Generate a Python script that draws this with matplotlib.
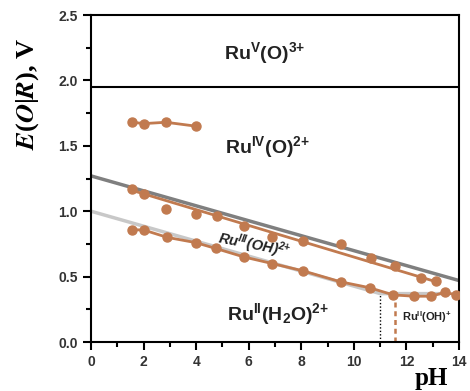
"""Pourbaix-style diagram for the Ru aqua/oxo complex."""

import matplotlib
import matplotlib.pyplot as plt
from matplotlib.ticker import MultipleLocator

matplotlib.use("Agg")

plt.rcParams["mathtext.fontset"] = "custom"
plt.rcParams["mathtext.rm"] = "Liberation Sans"
plt.rcParams["mathtext.bf"] = "Liberation Sans:bold"
plt.rcParams["mathtext.it"] = "Liberation Sans:italic"
plt.rcParams["mathtext.bfit"] = "Liberation Sans:bold:italic"

ORANGE = "#c17a4f"
DARK_GREY = "#7f7f7f"
LIGHT_GREY = "#c8c8c8"

# Ru(V)/Ru(IV) boundary
ru5_E = 1.95

# Ru(IV) measured points
ru4_ph = [1.55, 2.03, 2.85, 4.0]
ru4_E = [1.68, 1.67, 1.68, 1.65]

# Ru(IV)/Ru(III) measured points and fit line
ru43_ph = [1.55, 2.03, 2.85, 3.98, 4.78, 5.82, 6.89, 8.05, 9.5, 10.67, 11.56, 12.57, 13.14]
ru43_E = [1.17, 1.135, 1.02, 0.98, 0.96, 0.885, 0.80, 0.77, 0.75, 0.64, 0.58, 0.49, 0.47]
ru43_fit_ph = [1.55, 13.14]
ru43_fit_E = [1.16, 0.46]

# Ru(III)/Ru(II) measured points
ru32_ph = [1.55, 2.03, 2.9, 3.98, 4.75, 5.82, 6.89, 8.05, 9.5, 10.6, 11.5, 12.3, 12.95, 13.46, 13.9]
ru32_E = [0.86, 0.855, 0.80, 0.76, 0.715, 0.65, 0.60, 0.545, 0.46, 0.415, 0.36, 0.35, 0.35, 0.38, 0.36]

# theoretical lines
theo_hi_ph = [0, 14]
theo_hi_E = [1.27, 0.47]
theo_lo_ph = [0, 11.0, 13.3]
theo_lo_E = [1.0, 0.37, 0.37]

# pKa markers
pka_theo = 11.0
pka_exp = 11.56
pka_E = 0.36

fig = plt.figure(figsize=(4.7, 3.91), dpi=100)
ax = fig.add_axes([0.1936, 0.1253, 0.7830, 0.8363])

ax.plot(theo_hi_ph, theo_hi_E, color=DARK_GREY, lw=2.5, zorder=2)
ax.plot(theo_lo_ph, theo_lo_E, color=LIGHT_GREY, lw=2.5, zorder=2)
ax.axhline(ru5_E, color="black", lw=1.5, zorder=2)

ax.plot(ru4_ph, ru4_E, color=ORANGE, lw=2, marker="o", ms=6.5, zorder=3)
ax.plot(ru43_fit_ph, ru43_fit_E, color=ORANGE, lw=2, zorder=3)
ax.plot(ru43_ph, ru43_E, ls="none", color=ORANGE, marker="o", ms=6.5, zorder=3)
ax.plot(ru32_ph, ru32_E, color=ORANGE, lw=2, marker="o", ms=6.5, zorder=3)

ax.plot([pka_theo, pka_theo], [0, pka_E], color="black", lw=1, ls=(0, (1, 1.5)), zorder=2)
ax.plot([pka_exp, pka_exp], [0, pka_E], color=ORANGE, lw=1.8, ls=(0, (2, 1.5)), zorder=2)

ax.text(6.6, 2.21, r"Ru$^{\mathbf{V}}$(O)$^{\mathbf{3{+}}}$", fontsize=14, fontweight="bold",
        family="Liberation Sans", color="#222222", ha="center", va="center")
ax.text(6.7, 1.49, r"Ru$^{\mathbf{IV}}$(O)$^{\mathbf{2{+}}}$", fontsize=14, fontweight="bold",
        family="Liberation Sans", color="#222222", ha="center", va="center")
ax.text(6.2, 0.74, r"Ru$^{\mathbfit{III}}$(OH)$^{\mathbfit{2{+}}}$", fontsize=10.5,
        fontweight="bold", style="italic", family="Liberation Sans", color="#222222",
        ha="center", va="center", rotation=-11)
ax.text(7.1, 0.21, r"Ru$^{\mathbf{II}}$(H$_{\mathbf{2}}$O)$^{\mathbf{2{+}}}$", fontsize=14,
        fontweight="bold", family="Liberation Sans", color="#222222", ha="center", va="center")
ax.text(12.8, 0.19, r"Ru$^{\mathbf{II}}$(OH)$^{\mathbf{{+}}}$", fontsize=8, fontweight="bold",
        family="Liberation Sans", color="#222222", ha="center", va="center")

ax.set_xlim(0, 14)
ax.set_ylim(0, 2.5)
ax.xaxis.set_major_locator(MultipleLocator(2))
ax.xaxis.set_minor_locator(MultipleLocator(1))
ax.yaxis.set_major_locator(MultipleLocator(0.5))
ax.yaxis.set_minor_locator(MultipleLocator(0.25))
ax.yaxis.set_major_formatter(matplotlib.ticker.FormatStrFormatter("%.1f"))
ax.tick_params(which="both", direction="out", width=1.5, colors="black")
ax.tick_params(which="major", length=6, labelsize=10, labelcolor="#333333")
ax.tick_params(which="minor", length=3.5)
for lbl in ax.get_xticklabels() + ax.get_yticklabels():
    lbl.set_fontweight("bold")
    lbl.set_family("Liberation Sans")
for sp in ax.spines.values():
    sp.set_linewidth(1.5)

ax.text(0.925, -0.113, "pH", transform=ax.transAxes, fontsize=18, fontweight="bold",
        family="Liberation Serif", ha="center", va="center")
fig.text(0.058, 0.76, r"$\mathbfit{E}$($\mathbfit{O}$|$\mathbfit{R}$), V", rotation=90,
         fontsize=19, fontweight="bold", family="Liberation Serif", math_fontfamily="stix",
         ha="center", va="center")

fig.savefig("out.png", dpi=100)
plt.close(fig)
